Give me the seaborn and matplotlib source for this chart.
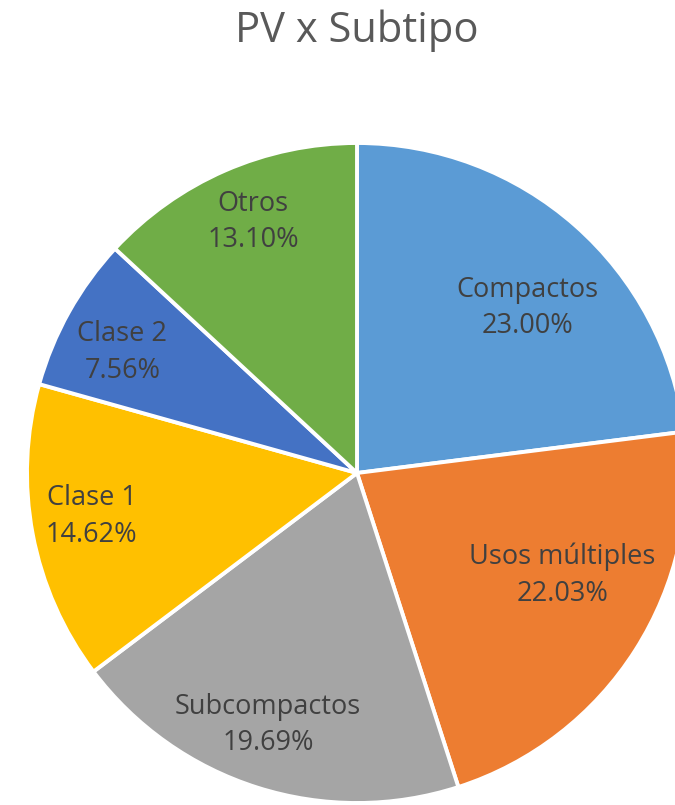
import numpy as np
import seaborn as sns
import matplotlib
matplotlib.use("Agg")
import matplotlib.pyplot as plt

# datos del gráfico
subtipos = ["Compactos", "Usos múltiples", "Subcompactos", "Clase 1", "Clase 2", "Otros"]
participacion = [23.00, 22.03, 19.69, 14.62, 7.56, 13.10]
colores = ["#5B9BD5", "#ED7D31", "#A5A5A5", "#FFC000", "#4472C4", "#70AD47"]

sns.set_theme(style="white")
plt.rcParams["font.family"] = ["Open Sans", "DejaVu Sans"]

fig = plt.figure(figsize=(6.75, 8.05), dpi=100)
ax = fig.add_axes([27 / 675, 2 / 805, 660 / 675, 660 / 805])

wedges, _ = ax.pie(
    participacion,
    colors=colores,
    startangle=90,
    counterclock=False,
    radius=1,
    wedgeprops=dict(edgecolor="white", linewidth=2.8),
)
ax.set_xlim(-1, 1)
ax.set_ylim(-1, 1)
ax.axis("off")

# etiquetas dentro de cada porción (radio y ajuste de ángulo como en Excel)
radios = [0.72, 0.695, 0.81, 0.815, 0.80, 0.823]
giros = [-4.6, 6.0, -1.9, -1.3, 2.0, -1.1]
for w, nombre, val, r, g in zip(wedges, subtipos, participacion, radios, giros):
    ang = np.deg2rad((w.theta1 + w.theta2) / 2 + g)
    ax.text(r * np.cos(ang), r * np.sin(ang), f"{nombre}\n{val:.2f}%",
            ha="center", va="center", fontsize=19.5, color="#404040",
            linespacing=1.42)

fig.text(357 / 675, 1 - 31 / 805, "PV x Subtipo", ha="center", va="center",
         fontsize=30, color="#595959")

fig.savefig("out.png", dpi=100)
